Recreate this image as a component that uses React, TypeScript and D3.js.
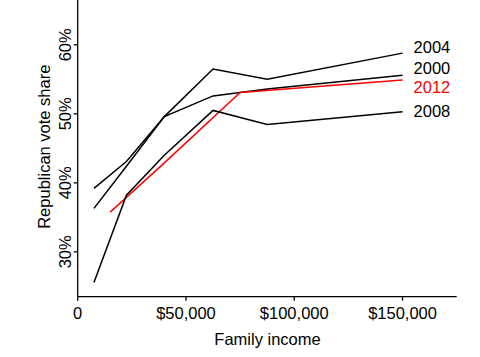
import React from "react";
import * as d3 from "d3";

// Data (income in $1000s, vote share in %)
const incomes = [7.5, 22.5, 40, 62.5, 87.5, 150];
const incomes2012 = [15, 40, 75, 150];
const share2000 = [39.2, 43.1, 49.6, 52.6, 53.6, 55.6];
const share2004 = [36.3, 42.4, 49.6, 56.5, 55.0, 58.8];
const share2008 = [25.55, 38.2, 44.0, 50.5, 48.45, 50.3];
const share2012 = [35.75, 42.9, 53.1, 54.9];
const xTicks = [0, 50, 100, 150];
const xTickLabels = ["0", "$50,000", "$100,000", "$150,000"];
const yTicks = [30, 40, 50, 60];

const seriesNames = ["2004", "2000", "2012", "2008"];

const W = 480;
const H = 357;
const FONT = "'Liberation Sans', Arial, Helvetica, sans-serif";

export default function App() {
  const x = d3.scaleLinear().domain([0, 175]).range([77.7, 456.7]);
  const y = d3.scaleLinear().domain([23.5, 66.5]).range([296.7, 0]);

  const line = d3
    .line<[number, number]>()
    .x((d) => x(d[0]))
    .y((d) => y(d[1]));

  const series = [
    { name: "2004", xs: incomes, ys: share2004, color: "#000" },
    { name: "2000", xs: incomes, ys: share2000, color: "#000" },
    { name: "2012", xs: incomes2012, ys: share2012, color: "#ff0000" },
    { name: "2008", xs: incomes, ys: share2008, color: "#000" },
  ];

  const labelY: Record<string, number> = {
    "2004": 52.7,
    "2000": 74,
    "2012": 93.3,
    "2008": 117.3,
  };

  return (
    <svg
      width={W}
      height={H}
      style={{ position: "absolute", left: 0, top: 0, background: "#fff" }}
      fontFamily={FONT}
    >
      {/* lines */}
      {series.map((s) => (
        <path
          key={s.name}
          d={line(s.xs.map((v, i) => [v, s.ys[i]] as [number, number])) || ""}
          fill="none"
          stroke={s.color}
          strokeWidth={1.5}
          strokeLinejoin="miter"
        />
      ))}
      {/* series labels */}
      {seriesNames.map((n) => {
        const s = series.find((d) => d.name === n)!;
        return (
          <text
            key={n}
            x={x(150) + 11}
            y={labelY[n]}
            fontSize={16.5}
            fill={s.color}
          >
            {n}
          </text>
        );
      })}
      {/* x axis */}
      <line x1={x(0)} x2={x(175)} y1={y(23.5)} y2={y(23.5)} stroke="#000" strokeWidth={1.3} />
      {xTicks.map((t, i) => (
        <g key={t}>
          <line x1={x(t)} x2={x(t)} y1={y(23.5)} y2={y(23.5) + 4} stroke="#000" strokeWidth={1.3} />
          <text x={x(t)} y={318.5} textAnchor="middle" fontSize={16.5} fill="#000">
            {xTickLabels[i]}
          </text>
        </g>
      ))}
      <text x={267.5} y={345} textAnchor="middle" fontSize={16.5} fill="#000">
        Family income
      </text>
      {/* y axis */}
      <line x1={x(0)} x2={x(0)} y1={y(66.5)} y2={y(23.5)} stroke="#000" strokeWidth={1.3} />
      {yTicks.map((t) => (
        <g key={t}>
          <line x1={x(0) - 4} x2={x(0)} y1={y(t)} y2={y(t)} stroke="#000" strokeWidth={1.3} />
          <text
            transform={`translate(70.5,${y(t)}) rotate(-90)`}
            textAnchor="middle"
            fontSize={16.5}
            fill="#000"
          >
            {`${t}%`}
          </text>
        </g>
      ))}
      <text
        transform={`translate(50,146.7) rotate(-90)`}
        textAnchor="middle"
        fontSize={16.5}
        fill="#000"
      >
        Republican vote share
      </text>
    </svg>
  );
}
